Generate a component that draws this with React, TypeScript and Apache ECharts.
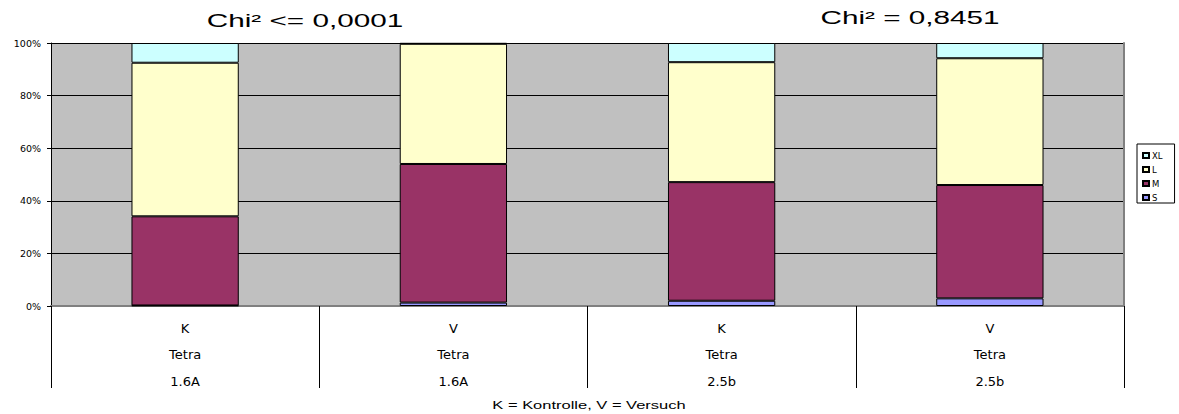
import React, { useEffect, useRef } from "react";
import * as echarts from "echarts";

const categories = ["K\nTetra\n1.6A", "V\nTetra\n1.6A", "K\nTetra\n2.5b", "V\nTetra\n2.5b"];
const sValues = [0.2, 1.3, 2.0, 2.9];
const mValues = [33.9, 52.7, 45.1, 43.1];
const lValues = [58.4, 45.7, 45.6, 48.2];
const xlValues = [7.5, 0.3, 7.3, 5.8];
const yTicks = [0, 20, 40, 60, 80, 100];
const titleLeft = "Chi² <= 0,0001";
const titleRight = "Chi² = 0,8451";
const footnote = "K = Kontrolle, V = Versuch";

const FONT = "Liberation Sans, Arial, sans-serif";
const WIDE = "DejaVu Sans, sans-serif";

export default function App() {
  const ref = useRef<HTMLDivElement>(null);
  useEffect(() => {
    if (!ref.current) return;
    const chart = echarts.init(ref.current, null, { renderer: "svg" });
    const mk = (name: string, data: number[], color: string) => ({
      name,
      type: "bar",
      stack: "total",
      barWidth: "40%",
      data,
      itemStyle: { color, borderColor: "#000", borderWidth: 1 },
      emphasis: { disabled: true },
    });
    chart.setOption({
      animation: false,
      textStyle: { fontFamily: FONT },
      grid: {
        left: 51,
        right: 55,
        top: 43,
        bottom: 108,
        show: true,
        backgroundColor: "#C0C0C0",
        borderWidth: 0,
      },
      legend: {
        orient: "vertical",
        left: 1137,
        top: 144,
        data: ["XL", "L", "M", "S"],
        icon: "rect",
        itemWidth: 6,
        itemHeight: 5,
        itemGap: 5,
        padding: [7, 12, 1, 5],
        borderColor: "#000",
        borderWidth: 1,
        borderRadius: 0,
        textStyle: { fontSize: 8.5, color: "#000", fontFamily: WIDE, padding: [0, 0, 0, -2] },
        selectedMode: false,
      },
      xAxis: [
        {
          type: "category",
          data: categories,
          position: "bottom",
          axisLine: { lineStyle: { color: "#000", width: 1 } },
          axisTick: { show: true, interval: 0, length: 82, lineStyle: { color: "#000" } },
          axisLabel: {
            interval: 0,
            fontSize: 13,
            lineHeight: 26.5,
            color: "#000",
            margin: 9,
            fontFamily: WIDE,
          },
        },
        {
          type: "category",
          data: categories,
          position: "top",
          axisLine: { lineStyle: { color: "#808080", width: 2 } },
          axisTick: { show: false },
          axisLabel: { show: false },
        },
      ],
      yAxis: [
        {
          type: "value",
          min: yTicks[0],
          max: yTicks[yTicks.length - 1],
          interval: 20,
          position: "left",
          axisLine: { show: true, lineStyle: { color: "#000" } },
          axisTick: { show: true, length: 4, lineStyle: { color: "#000" } },
          axisLabel: {
            formatter: "{value}%",
            fontSize: 9.5,
            color: "#000",
            margin: 10,
            fontFamily: WIDE,
          },
          splitLine: { show: true, lineStyle: { color: "#000", width: 1 } },
        },
        {
          type: "value",
          min: yTicks[0],
          max: yTicks[yTicks.length - 1],
          interval: 20,
          position: "right",
          axisLine: { show: true, lineStyle: { color: "#808080", width: 2 } },
          axisTick: { show: false },
          axisLabel: { show: false },
          splitLine: { show: false },
        },
      ],
      series: [
        mk("S", sValues, "#9999FF"),
        mk("M", mValues, "#993366"),
        mk("L", lValues, "#FFFFCC"),
        mk("XL", xlValues, "#CCFFFF"),
      ],
      graphic: [
        {
          type: "text",
          x: 305,
          y: 21,
          scaleX: 1.65,
          style: {
            text: titleLeft,
            fontSize: 18,
            fontFamily: FONT,
            fill: "#000",
            align: "center",
            verticalAlign: "middle",
          },
        },
        {
          type: "text",
          x: 910,
          y: 18,
          scaleX: 1.65,
          style: {
            text: titleRight,
            fontSize: 18,
            fontFamily: FONT,
            fill: "#000",
            align: "center",
            verticalAlign: "middle",
          },
        },
        {
          type: "text",
          x: 589,
          y: 406,
          scaleX: 1.65,
          style: {
            text: footnote,
            fontSize: 10,
            fontFamily: FONT,
            fill: "#000",
            align: "center",
            verticalAlign: "middle",
          },
        },
      ],
    });
    return () => chart.dispose();
  }, []);
  return (
    <div
      ref={ref}
      style={{ position: "absolute", left: 0, top: 0, width: 1179, height: 414 }}
    />
  );
}
